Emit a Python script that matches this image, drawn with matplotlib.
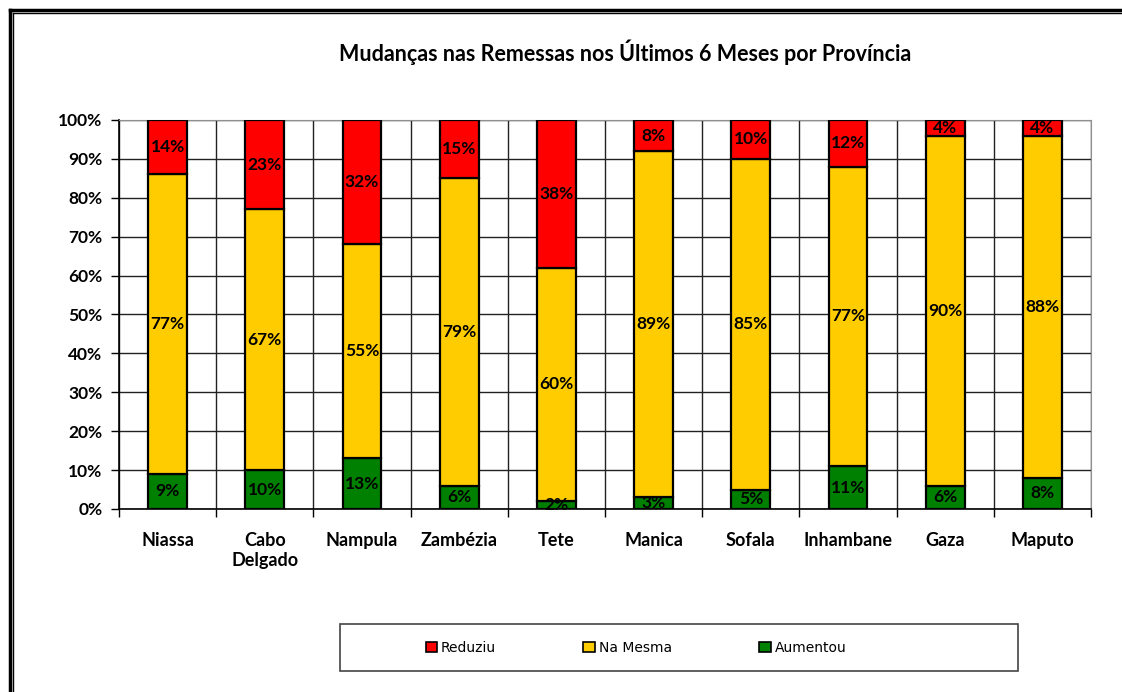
import numpy as np
import matplotlib
matplotlib.use("Agg")
import matplotlib.pyplot as plt
from matplotlib.patches import Rectangle
from matplotlib.lines import Line2D

provinces = ["Niassa", "Cabo\nDelgado", "Nampula", "Zambézia", "Tete",
             "Manica", "Sofala", "Inhambane", "Gaza", "Maputo"]
aumentou = [9, 10, 13, 6, 2, 3, 5, 11, 6, 8]
na_mesma = [77, 67, 55, 79, 60, 89, 85, 77, 90, 88]
reduziu = [14, 23, 32, 15, 38, 8, 10, 12, 4, 4]
title = "Mudanças nas Remessas nos Últimos 6 Meses por Província"

c_red, c_yel, c_grn = "#FF0000", "#FFCC00", "#008000"
FONT = ["Lato", "DejaVu Sans"]

fig = plt.figure(figsize=(11.22, 6.92), dpi=100)
ax = fig.add_axes([0.1061, 0.2645, 0.8663, 0.5621])

x = np.arange(len(provinces))
a = np.array(aumentou); m = np.array(na_mesma); r = np.array(reduziu)
kw = dict(width=0.4, edgecolor="black", linewidth=1.6, zorder=3)
ax.bar(x, a, color=c_grn, **kw)
ax.bar(x, m, bottom=a, color=c_yel, **kw)
ax.bar(x, r, bottom=a + m, color=c_red, **kw)

for i in range(len(x)):
    for val, base in ((a[i], 0), (m[i], a[i]), (r[i], a[i] + m[i])):
        ax.text(x[i], base + val / 2, f"{val}%", ha="center", va="center",
                fontsize=12.5, fontweight="bold", family=FONT, zorder=4)

ax.set_xlim(-0.5, len(x) - 0.5)
ax.set_ylim(0, 100)
ax.set_yticks(np.arange(0, 101, 10))
ax.set_yticklabels([f"{v}%" for v in range(0, 101, 10)], fontsize=12.5,
                   fontweight="bold", family=FONT)
ax.yaxis.grid(True, color="#222222", linewidth=1, zorder=0)
# vertical lines between categories
ax.set_xticks(np.arange(-0.5, len(x)), minor=False)
ax.set_xticklabels([])
ax.xaxis.grid(True, color="#222222", linewidth=1, zorder=0)
ax.tick_params(axis="x", length=6, width=1, color="black")
ax.tick_params(axis="y", length=6, width=1, color="black", pad=6)
for i, p in enumerate(provinces):
    ax.text(x[i], -6, p, ha="center", va="top", fontsize=13,
            fontweight="bold", family=FONT, linespacing=1.2)

for s in ("top", "right"):
    ax.spines[s].set_color("#909090")
for s in ("left", "bottom"):
    ax.spines[s].set_color("black")
    ax.spines[s].set_linewidth(1.2)

fig.text(625 / 1122, 1 - 52 / 692, title, ha="center", va="center",
         fontsize=15.5, fontweight="bold", family=FONT)

# legend box
box = Rectangle((340 / 1122, 1 - 671 / 692), (1018 - 340) / 1122, 47 / 692,
                transform=fig.transFigure, fill=False, edgecolor="#444444",
                linewidth=1.2)
fig.add_artist(box)
handles = [Rectangle((0, 0), 1, 1, facecolor=c, edgecolor="black", linewidth=1.2)
           for c in (c_red, c_yel, c_grn)]
fig.legend(handles, ["Reduziu", "Na Mesma", "Aumentou"], ncol=3,
           loc="center", bbox_to_anchor=(636 / 1122, 1 - 648 / 692),
           frameon=False, handlelength=0.8, handleheight=0.8,
           handletextpad=0.3, columnspacing=6.3,
           prop={"family": ["DejaVu Sans"], "size": 10})

# outer double frame on left and top
for off, lw in ((9.5, 2.5), (12.5, 1.0)):
    fig.add_artist(Line2D([off / 1122, off / 1122], [0, 1 - off / 692],
                          transform=fig.transFigure, color="black", linewidth=lw))
    fig.add_artist(Line2D([off / 1122, 1], [1 - off / 692, 1 - off / 692],
                          transform=fig.transFigure, color="black", linewidth=lw))

fig.savefig("out.png", dpi=100)
